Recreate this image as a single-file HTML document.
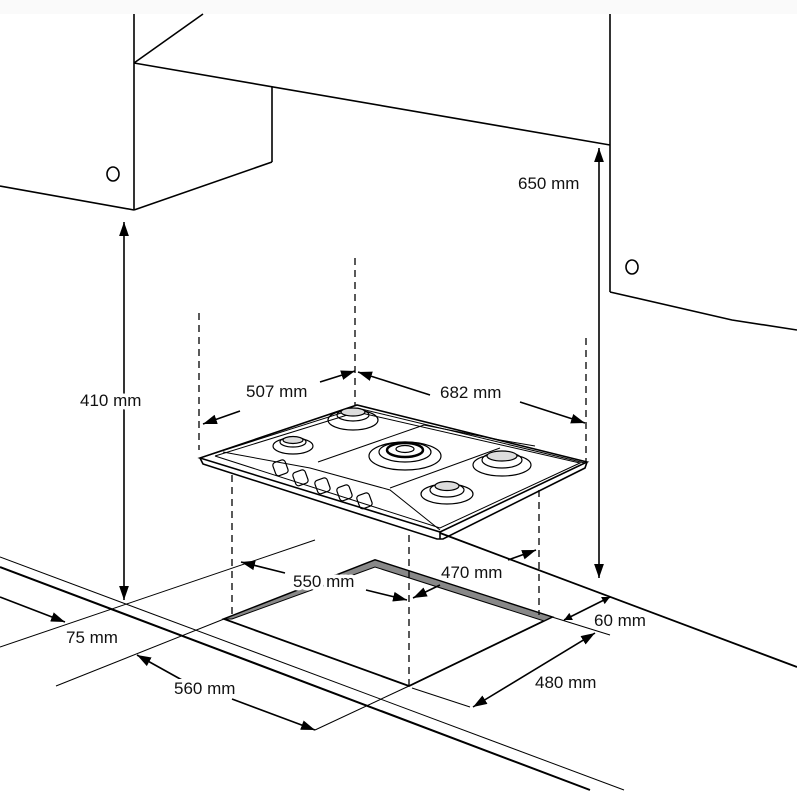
<!DOCTYPE html>
<html><head><meta charset="utf-8"><style>
html,body{margin:0;padding:0;background:#fff}
svg{display:block}
text{font-family:"Liberation Sans",sans-serif;font-size:17px;fill:#111;stroke:#fff;stroke-width:7px;paint-order:stroke;stroke-linejoin:round}
</style></head><body>
<svg width="797" height="797" viewBox="0 0 797 797" xmlns="http://www.w3.org/2000/svg">
<defs>
<marker id="a" viewBox="0 0 10 10" refX="10" refY="5" markerWidth="8" markerHeight="8" orient="auto-start-reverse" markerUnits="userSpaceOnUse"><path d="M0,0L10,5L0,10z" fill="#000"/></marker>
<marker id="b" viewBox="0 0 10 10" refX="10" refY="5" markerWidth="14" markerHeight="14" orient="auto-start-reverse" markerUnits="userSpaceOnUse"><path d="M0,1.5L10,5L0,8.5z" fill="#000"/></marker>
</defs>
<rect x="0" y="0" width="797" height="14" fill="#fafafa"/>
<g stroke="#000" fill="none" stroke-width="1.6">
<line x1="134" y1="14" x2="134" y2="210"/>
<line x1="134" y1="63" x2="203" y2="14"/>
<line x1="134" y1="63" x2="610" y2="145"/>
<line x1="272" y1="87" x2="272" y2="162"/>
<line x1="272" y1="162" x2="134" y2="210"/>
<line x1="0" y1="186" x2="134" y2="210"/>
<ellipse cx="113" cy="174" rx="6" ry="7"/>
<line x1="610" y1="14" x2="610" y2="292"/>
<polyline points="610,292 732,320 797,330"/>
<ellipse cx="632" cy="267" rx="6" ry="7"/>
<line x1="0" y1="567" x2="590" y2="790" stroke-width="2"/>
<line x1="0" y1="557" x2="624" y2="790" stroke-width="1"/>
<line x1="440" y1="533" x2="797" y2="667" stroke-width="1.8"/>
<line x1="0" y1="647" x2="315" y2="540" stroke-width="1"/>
<line x1="56" y1="686" x2="224" y2="619" stroke-width="1"/>
<line x1="315" y1="730" x2="409" y2="686" stroke-width="1"/>
<line x1="412" y1="688" x2="470" y2="707" stroke-width="1"/>
<line x1="552" y1="617" x2="610" y2="635" stroke-width="1"/>
<polygon points="224,619 375,560 552,617 409,686" stroke-width="1.8"/>
<polygon points="224,619 375,560 552,617 544,621 375,567 232,619" fill="#888" stroke-width="1"/>
<polygon points="200,458 357,405 587,462 440,532" fill="#fff"/>
<polyline points="200,458 203,464 437,539 443,539 585,468 587,462" />
<line x1="440" y1="532" x2="440" y2="539"/>
<polyline points="203,457 357,408 585,463" stroke-width="1"/>
<polyline points="215,456 357,412 580,463 440,528 215,456" stroke-width="1"/>
<polyline points="223,452 310,468 390,490 440,530" stroke-width="1"/>
<line x1="318" y1="462" x2="424" y2="425" stroke-width="1"/>
<line x1="390" y1="488" x2="500" y2="448" stroke-width="1"/>
<line x1="424" y1="425" x2="500" y2="440" stroke-width="1"/>
<line x1="500" y1="440" x2="535" y2="446" stroke-width="1"/>
<g stroke-width="1.2">
<ellipse cx="353" cy="420" rx="25" ry="10"/><ellipse cx="353" cy="415" rx="16" ry="6"/><ellipse cx="353" cy="412" rx="12" ry="4" fill="#ddd"/>
<ellipse cx="293" cy="446" rx="20" ry="8"/><ellipse cx="293" cy="442" rx="13" ry="5"/><ellipse cx="293" cy="440" rx="10" ry="3.5" fill="#ddd"/>
<ellipse cx="405" cy="456" rx="36" ry="14"/><ellipse cx="405" cy="452" rx="26" ry="10"/><ellipse cx="405" cy="450" rx="18" ry="7" stroke-width="2.5"/><ellipse cx="405" cy="449" rx="9" ry="3.5"/>
<ellipse cx="502" cy="465" rx="29" ry="11"/><ellipse cx="502" cy="460" rx="20" ry="8"/><ellipse cx="502" cy="456" rx="15" ry="5" fill="#ddd"/>
<ellipse cx="447" cy="494" rx="26" ry="10"/><ellipse cx="447" cy="490" rx="17" ry="7"/><ellipse cx="447" cy="486" rx="12" ry="4.5" fill="#ddd"/>
</g>
<g stroke-width="1.2">
<rect x="274" y="461" width="13" height="14" rx="3" transform="rotate(-20 280 468)"/>
<rect x="294" y="471" width="13" height="14" rx="3" transform="rotate(-20 300 478)"/>
<rect x="316" y="479" width="13" height="14" rx="3" transform="rotate(-20 322 486)"/>
<rect x="338" y="486" width="13" height="14" rx="3" transform="rotate(-20 344 493)"/>
<rect x="358" y="494" width="13" height="14" rx="3" transform="rotate(-20 364 501)"/>
</g>
<g stroke-dasharray="7,5" stroke-width="1.3">
<line x1="199" y1="313" x2="199" y2="450"/>
<line x1="355" y1="258" x2="355" y2="405"/>
<line x1="586" y1="338" x2="586" y2="462"/>
<line x1="232" y1="475" x2="232" y2="617"/>
<line x1="409" y1="535" x2="409" y2="686"/>
<line x1="539" y1="490" x2="539" y2="615"/>
</g>
<g stroke-width="1.6">
<line x1="124" y1="222" x2="124" y2="600" marker-start="url(#b)" marker-end="url(#b)"/>
<line x1="599" y1="148" x2="599" y2="578" marker-start="url(#b)" marker-end="url(#b)"/>
<line x1="240" y1="411" x2="203" y2="424" marker-end="url(#b)"/>
<line x1="320" y1="382" x2="355" y2="371" marker-end="url(#b)"/>
<line x1="430" y1="395" x2="358" y2="372" marker-end="url(#b)"/>
<line x1="520" y1="402" x2="585" y2="423" marker-end="url(#b)"/>
<line x1="285" y1="573" x2="241" y2="562" marker-end="url(#b)"/>
<line x1="366" y1="590" x2="407" y2="600" marker-end="url(#b)"/>
<line x1="440" y1="585" x2="413" y2="598" marker-end="url(#b)"/>
<line x1="508" y1="560" x2="536" y2="550" marker-end="url(#b)"/>
<line x1="0" y1="597" x2="65" y2="622" marker-end="url(#b)"/>
<line x1="182" y1="680" x2="137" y2="655" marker-end="url(#b)"/>
<line x1="232" y1="699" x2="315" y2="730" marker-end="url(#b)"/>
<line x1="564" y1="620" x2="610" y2="597" marker-start="url(#a)" marker-end="url(#a)"/>
<line x1="595" y1="633" x2="473" y2="707" marker-start="url(#b)" marker-end="url(#b)"/>
</g>
</g>
<text x="80" y="406">410 mm</text>
<text x="518" y="189">650 mm</text>
<text x="246" y="397">507 mm</text>
<text x="440" y="398">682 mm</text>
<text x="293" y="587">550 mm</text>
<text x="441" y="578">470 mm</text>
<text x="594" y="626">60 mm</text>
<text x="66" y="643">75 mm</text>
<text x="174" y="694">560 mm</text>
<text x="535" y="688">480 mm</text>
</svg>
</body></html>
